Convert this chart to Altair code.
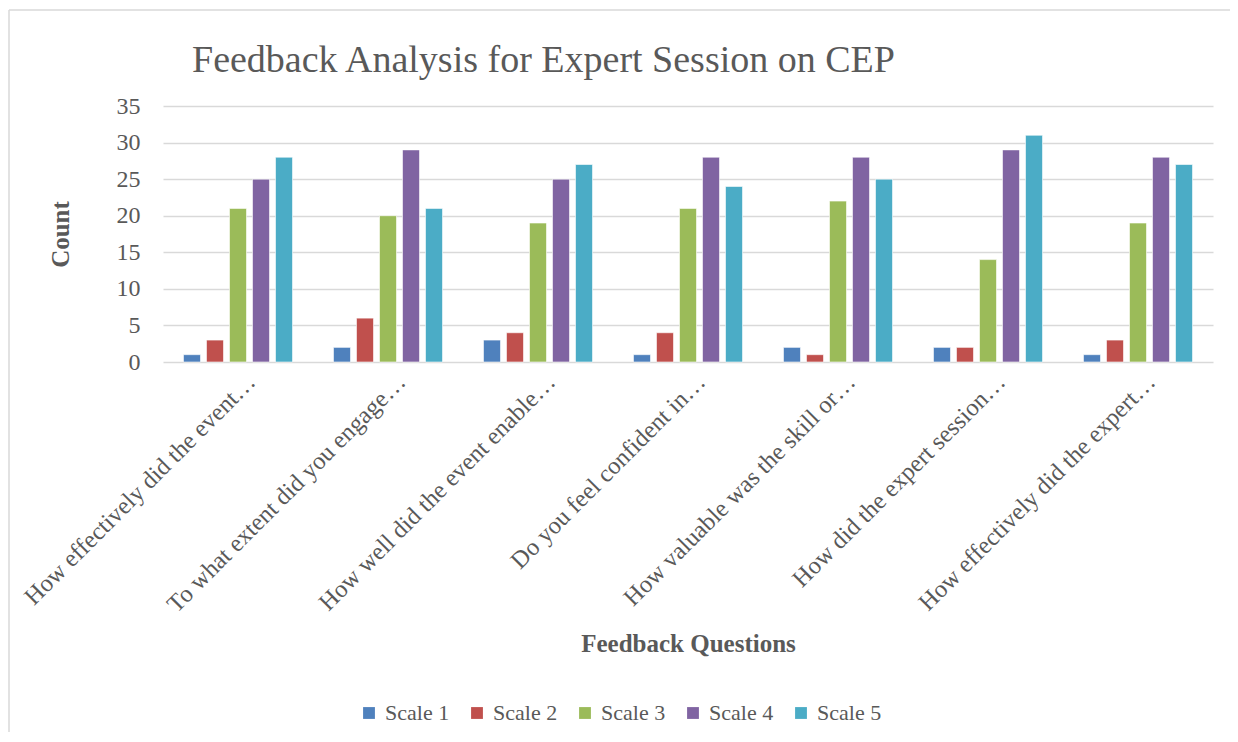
import altair as alt
import pandas as pd

title_text = ["Feedback Analysis for Expert Session on CEP"]
questions = [
    "How effectively did the event…",
    "To what extent did you engage…",
    "How well did the event enable…",
    "Do you feel confident in…",
    "How valuable was the skill or…",
    "How did the expert session…",
    "How effectively did the expert…",
]
series = ["Scale 1", "Scale 2", "Scale 3", "Scale 4", "Scale 5"]
scale1 = [1, 2, 3, 1, 2, 2, 1]
scale2 = [3, 6, 4, 4, 1, 2, 3]
scale3 = [21, 20, 19, 21, 22, 14, 19]
scale4 = [25, 29, 25, 28, 28, 29, 28]
scale5 = [28, 21, 27, 24, 25, 31, 27]
colors = ["#4F81BD", "#C0504D", "#9BBB59", "#8064A2", "#4BACC6"]
y_ticks = [0, 5, 10, 15, 20, 25, 30, 35]

rows = []
for s, vals in zip(series, [scale1, scale2, scale3, scale4, scale5]):
    for q, v in zip(questions, vals):
        rows.append({"Question": q, "Series": s, "Count": v})
df = pd.DataFrame(rows)

FONT = "Liberation Serif"
TXT = "#595959"

bars = alt.Chart(df).mark_bar(stroke="white", strokeWidth=0.6).encode(
    x=alt.X("Question:N", sort=questions,
            scale=alt.Scale(paddingInner=0.273, paddingOuter=0.1365),
            axis=alt.Axis(title="Feedback Questions", labelAngle=-45, labelAlign="right",
                          labelBaseline="middle", labelPadding=16, labelOffset=14,
                          labelFontSize=24.5, labelFont=FONT, labelColor=TXT,
                          ticks=False, domain=False, labelLimit=500,
                          titleFont=FONT, titleFontSize=25, titleFontWeight="bold",
                          titleColor=TXT, titleY=281, titleBaseline="middle")),
    xOffset=alt.XOffset("Series:N", sort=series,
                        scale=alt.Scale(paddingInner=0.26, paddingOuter=0)),
    y=alt.Y("Count:Q", scale=alt.Scale(domain=[0, 35], nice=False),
            axis=alt.Axis(title="Count", values=y_ticks, labelFont=FONT, labelFontSize=24,
                          labelColor=TXT, labelPadding=23, ticks=False, domain=False,
                          gridColor="#d9d9d9", gridWidth=1.5,
                          titleFont=FONT, titleFontSize=25, titleFontWeight="bold",
                          titleColor=TXT, titleX=-103, titleY=128, titleAngle=-90,
                          titleAlign="center", titleBaseline="middle")),
    color=alt.Color("Series:N", sort=series,
                    scale=alt.Scale(domain=series, range=colors),
                    legend=alt.Legend(title=None, orient="none", direction="horizontal",
                                      legendX=195, legendY=596, symbolType="square",
                                      symbolSize=140, symbolStrokeWidth=0,
                                      labelFont=FONT, labelFontSize=22, labelColor=TXT,
                                      columnPadding=16, labelOffset=5)),
)

title_df = pd.DataFrame({"t": title_text})
title = alt.Chart(title_df).mark_text(
    font=FONT, fontSize=38, color=TXT, align="left", baseline="alphabetic"
).encode(text="t:N", x=alt.value(29), y=alt.value(-34))

border = pd.DataFrame({"k": ["b"]})
left = alt.Chart(border).mark_rule(color="#d9d9d9", strokeWidth=1.5).encode(
    x=alt.value(-154), y=alt.value(-96), y2=alt.value(700))
top = alt.Chart(border).mark_rule(color="#d9d9d9", strokeWidth=1.5).encode(
    x=alt.value(-154), x2=alt.value(1075), y=alt.value(-96))

chart = alt.layer(left, top, title, bars).properties(
    width=1050, height=256,
    background="white",
    autosize=alt.AutoSizeParams(type="none"),
    padding={"left": 155, "top": 98, "right": 17, "bottom": 370},
).configure_view(stroke=None)

chart.save("out.html", embed_options={"renderer": "svg", "actions": False})
